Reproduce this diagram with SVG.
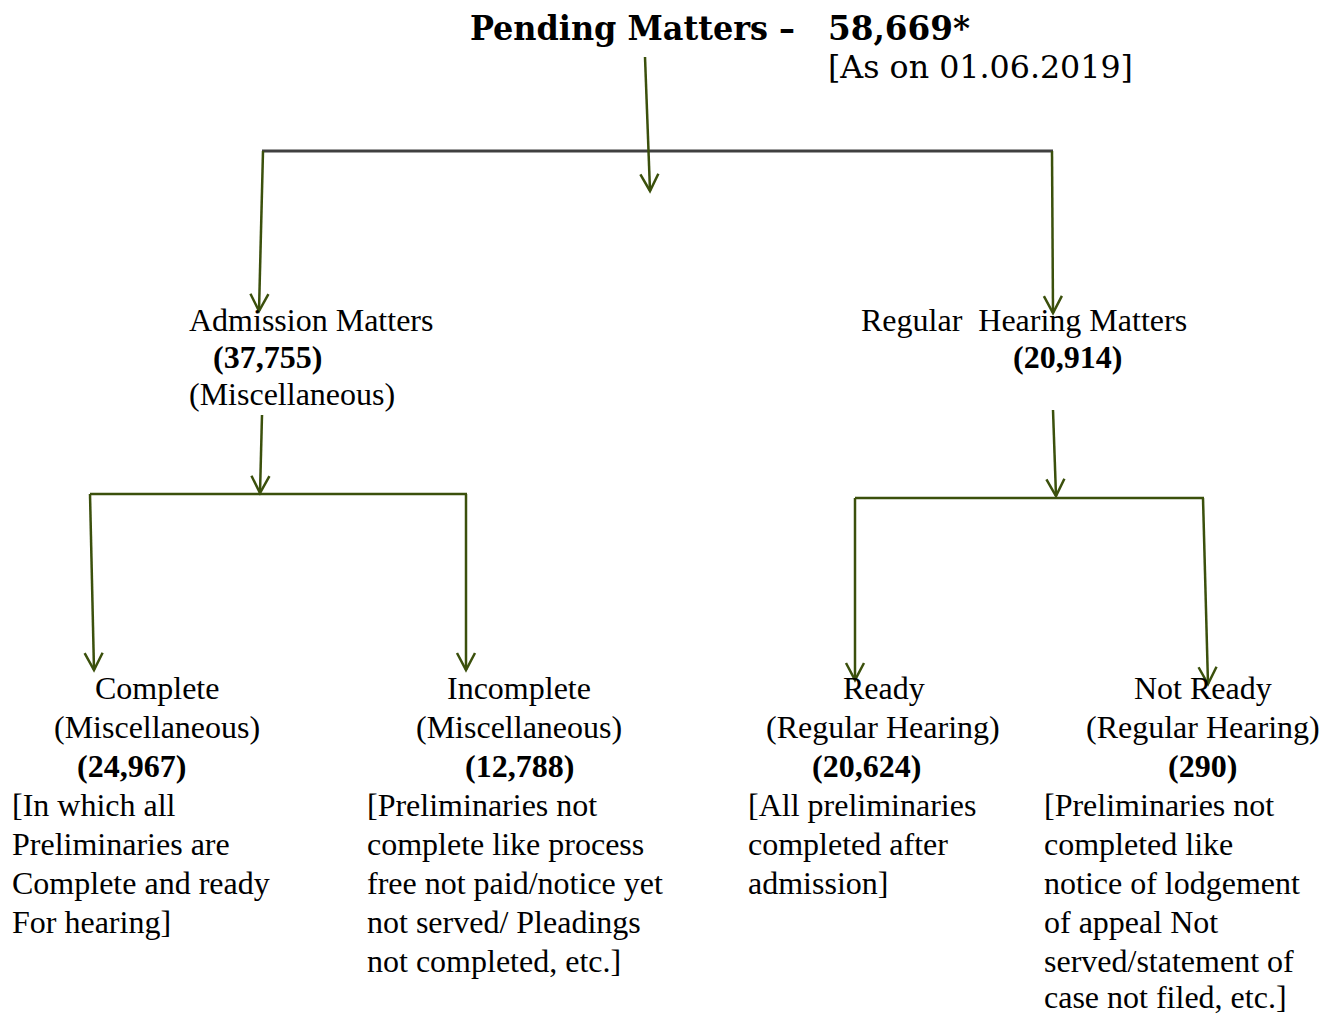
<svg xmlns="http://www.w3.org/2000/svg" width="1322" height="1015" viewBox="0 0 1322 1015">
<defs>
<style>
.t{font-family:"Liberation Serif","Times New Roman",serif;font-size:32px;fill:#000}
.b{font-weight:bold}
.h{font-family:"DejaVu Serif",serif;font-stretch:condensed;fill:#000}
.c{stroke:#3b500c;stroke-width:2.5;fill:none}
.g{stroke:#404040;stroke-width:3;fill:none}
</style>
<marker id="ah" markerUnits="userSpaceOnUse" markerWidth="30" markerHeight="30" refX="0" refY="0" viewBox="-20 -15 25 30" orient="auto" overflow="visible">
<path d="M-17,-9 L0,0 L-17,9" fill="none" stroke="#3b500c" stroke-width="2.5"/>
</marker>
</defs>
<rect width="1322" height="1015" fill="#fff"/>
<g id="connectors">
<line class="g" x1="262" y1="151" x2="1053" y2="151"/>
<line class="c" x1="645" y1="57" x2="650" y2="191" marker-end="url(#ah)"/>
<line class="c" x1="263" y1="151" x2="259" y2="311" marker-end="url(#ah)"/>
<line class="c" x1="1052" y1="151" x2="1053" y2="313" marker-end="url(#ah)"/>
<line class="c" x1="262" y1="415" x2="260" y2="493" marker-end="url(#ah)"/>
<line class="c" x1="90" y1="494" x2="467" y2="494"/>
<line class="c" x1="90" y1="494" x2="94" y2="670" marker-end="url(#ah)"/>
<line class="c" x1="466" y1="494" x2="466" y2="670" marker-end="url(#ah)"/>
<line class="c" x1="1053" y1="410" x2="1056" y2="496" marker-end="url(#ah)"/>
<line class="c" x1="855" y1="498" x2="1204" y2="498"/>
<line class="c" x1="855" y1="498" x2="855" y2="680" marker-end="url(#ah)"/>
<line class="c" x1="1203" y1="498" x2="1208" y2="684" marker-end="url(#ah)"/>
</g>
<g id="root">
<text class="h" font-weight="bold" font-size="34" x="470" y="40" textLength="325" lengthAdjust="spacingAndGlyphs">Pending Matters –</text>
<text class="h" font-weight="bold" font-size="34" x="828" y="40" textLength="142" lengthAdjust="spacingAndGlyphs">58,669*</text>
<text class="h" font-size="31" x="828" y="78" textLength="305" lengthAdjust="spacingAndGlyphs">[As on 01.06.2019]</text>
</g>
<g id="admission">
<text class="t" x="189" y="331">Admission Matters</text>
<text class="t b" x="213" y="368">(37,755)</text>
<text class="t" x="189" y="405">(Miscellaneous)</text>
</g>
<g id="regular">
<text class="t" x="861" y="331" xml:space="preserve">Regular  Hearing Matters</text>
<text class="t b" x="1013" y="368">(20,914)</text>
</g>
<g id="complete">
<text class="t" x="95" y="699">Complete</text>
<text class="t" x="54" y="738">(Miscellaneous)</text>
<text class="t b" x="77" y="777">(24,967)</text>
<text class="t" x="12" y="816">[In which all</text>
<text class="t" x="12" y="855">Preliminaries are</text>
<text class="t" x="12" y="894">Complete and ready</text>
<text class="t" x="12" y="933">For hearing]</text>
</g>
<g id="incomplete">
<text class="t" x="447" y="699">Incomplete</text>
<text class="t" x="416" y="738">(Miscellaneous)</text>
<text class="t b" x="465" y="777">(12,788)</text>
<text class="t" x="367" y="816">[Preliminaries not</text>
<text class="t" x="367" y="855">complete like process</text>
<text class="t" x="367" y="894">free not paid/notice yet</text>
<text class="t" x="367" y="933">not served/ Pleadings</text>
<text class="t" x="367" y="972">not completed, etc.]</text>
</g>
<g id="ready">
<text class="t" x="843" y="699">Ready</text>
<text class="t" x="766" y="738">(Regular Hearing)</text>
<text class="t b" x="812" y="777">(20,624)</text>
<text class="t" x="748" y="816">[All preliminaries</text>
<text class="t" x="748" y="855">completed after</text>
<text class="t" x="748" y="894">admission]</text>
</g>
<g id="notready">
<text class="t" x="1134" y="699">Not Ready</text>
<text class="t" x="1086" y="738">(Regular Hearing)</text>
<text class="t b" x="1168" y="777">(290)</text>
<text class="t" x="1044" y="816">[Preliminaries not</text>
<text class="t" x="1044" y="855">completed like</text>
<text class="t" x="1044" y="894">notice of lodgement</text>
<text class="t" x="1044" y="933">of appeal Not</text>
<text class="t" x="1044" y="972">served/statement of</text>
<text class="t" x="1044" y="1008">case not filed, etc.]</text>
</g>
</svg>
